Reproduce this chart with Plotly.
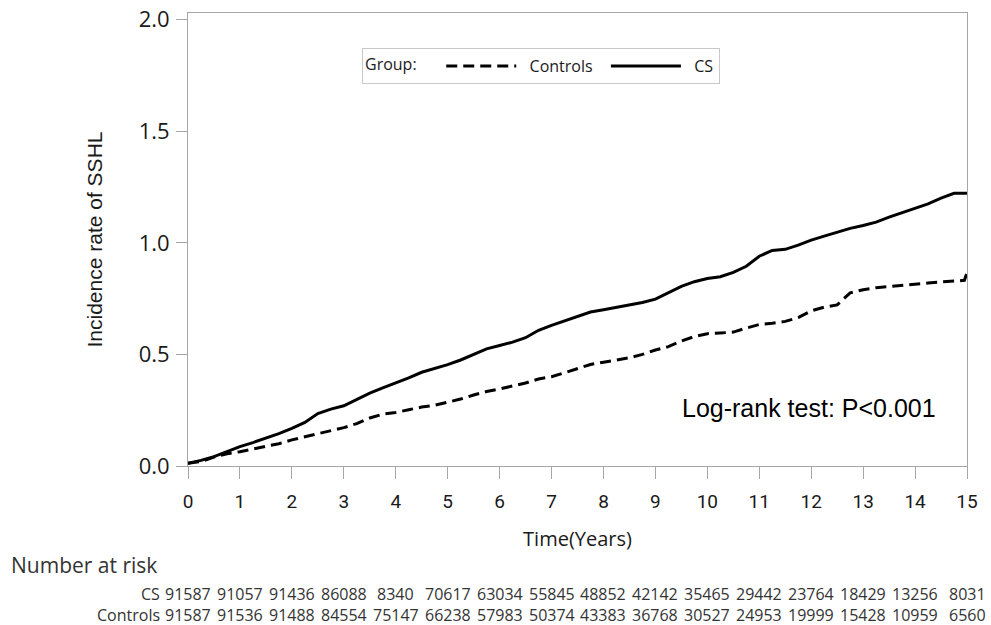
import plotly.graph_objects as go

# ---- data ----
time_years = [0, 0.25, 0.5, 0.75, 1.0, 1.25, 1.5, 1.75, 2.0, 2.25, 2.5, 2.75, 3.0, 3.25, 3.5, 3.75,
              4.0, 4.25, 4.5, 4.75, 5.0, 5.25, 5.5, 5.75, 6.0, 6.25, 6.5, 6.75, 7.0, 7.25, 7.5, 7.75,
              8.0, 8.25, 8.5, 8.75, 9.0, 9.25, 9.5, 9.75, 10.0, 10.25, 10.5, 10.75, 11.0, 11.25, 11.5,
              11.75, 12.0, 12.25, 12.5, 12.75, 13.0, 13.25, 13.5, 13.75, 14.0, 14.25, 14.5, 14.75, 14.95, 15.0]

cs_rate = [0.012, 0.025, 0.042, 0.065, 0.087, 0.105, 0.124, 0.145, 0.169, 0.195, 0.235, 0.255,
           0.270, 0.297, 0.327, 0.350, 0.372, 0.395, 0.420, 0.437, 0.454, 0.475, 0.500, 0.525,
           0.540, 0.555, 0.575, 0.608, 0.630, 0.650, 0.672, 0.690, 0.700, 0.710, 0.720, 0.733,
           0.748, 0.775, 0.805, 0.826, 0.840, 0.848, 0.868, 0.895, 0.940, 0.966, 0.971, 0.990,
           1.012, 1.030, 1.048, 1.065, 1.078, 1.093, 1.115, 1.135, 1.152, 1.175, 1.200, 1.222, 1.222, 1.222]

controls_rate = [0.012, 0.020, 0.040, 0.055, 0.064, 0.075, 0.087, 0.100, 0.117, 0.130, 0.144, 0.158,
                 0.172, 0.190, 0.215, 0.232, 0.240, 0.252, 0.264, 0.272, 0.285, 0.300, 0.318, 0.334,
                 0.345, 0.358, 0.372, 0.390, 0.400, 0.418, 0.435, 0.455, 0.465, 0.475, 0.485, 0.500,
                 0.520, 0.535, 0.560, 0.580, 0.593, 0.596, 0.600, 0.618, 0.634, 0.640, 0.648, 0.665,
                 0.695, 0.712, 0.722, 0.776, 0.790, 0.799, 0.805, 0.810, 0.815, 0.820, 0.825, 0.828, 0.832, 0.866]

risk_times = list(range(16))
cs_at_risk = [91587, 91057, 91436, 86088, 8340, 70617, 63034, 55845, 48852, 42142,
              35465, 29442, 23764, 18429, 13256, 8031]
controls_at_risk = [91587, 91536, 91488, 84554, 75147, 66238, 57983, 50374, 43383, 36768,
                    30527, 24953, 19999, 15428, 10959, 6560]

x_ticks = list(range(16))
y_ticks = [0.0, 0.5, 1.0, 1.5, 2.0]

AX = "#a6a6a6"
TXT = "#1a1a1a"
NB = "\u00a0"

fig = go.Figure()
fig.add_trace(go.Scatter(x=time_years, y=controls_rate, name=NB * 2 + "Controls" + NB * 2, mode="lines",
                         line=dict(color="black", width=3, dash="11px,6px")))
fig.add_trace(go.Scatter(x=time_years, y=cs_rate, name=NB * 2 + "CS", mode="lines",
                         line=dict(color="black", width=3)))

annotations = []
annotations.append(dict(x=11.95, y=0.26, xref="x", yref="y", text="Log-rank test: P<0.001",
                        showarrow=False, font=dict(family="Liberation Sans", size=25, color="black")))
annotations.append(dict(x=(9 - 188) / 779, y=(466 - 565) / 453, xref="paper", yref="paper",
                        text="Number at risk", showarrow=False, xanchor="left", yanchor="middle",
                        font=dict(family="Open Sans", size=21, color="#333333")))
row_y = {"CS": (466 - 594) / 453, "Controls": (466 - 615) / 453}
for label, vals in (("CS", cs_at_risk), ("Controls", controls_at_risk)):
    annotations.append(dict(x=(162 - 188) / 779, y=row_y[label], xref="paper", yref="paper",
                            text=label, showarrow=False, xanchor="right", yanchor="middle",
                            font=dict(family="Open Sans", size=16, color="#333333")))
    for t, v in zip(risk_times, vals):
        annotations.append(dict(x=t, y=row_y[label], xref="x", yref="paper", text=str(v),
                                showarrow=False, xanchor="center", yanchor="middle", borderpad=0,
                                font=dict(family="Open Sans", size=16, color="#333333")))

fig.update_layout(
    width=991, height=625,
    margin=dict(l=188, r=24, t=13, b=159, autoexpand=False),
    paper_bgcolor="white", plot_bgcolor="white",
    showlegend=True,
    legend=dict(orientation="h", x=(362 - 188) / 779, y=(466 - 48) / 453, xanchor="left", yanchor="top",
                title=dict(text="Group:    ", side="left", font=dict(family="Open Sans", size=16, color=TXT)),
                font=dict(family="Open Sans", size=16, color=TXT),
                bordercolor="#c8c8c8", borderwidth=1, bgcolor="white",
                itemwidth=70, tracegroupgap=0),
    annotations=annotations,
    xaxis=dict(range=[0, 15], tickvals=x_ticks, ticks="outside", ticklen=12, tickcolor=AX,
               showline=True, linecolor=AX, linewidth=1, mirror=True, showgrid=False, zeroline=False,
               automargin=False,
               tickfont=dict(family="Roboto", size=19, color=TXT), ticklabelstandoff=6,
               title=dict(text="Time(Years)", font=dict(family="Open Sans", size=20, color=TXT), standoff=20)),
    yaxis=dict(range=[0, 2.03], tickvals=y_ticks, tickformat=".1f", ticks="outside", ticklen=11,
               tickcolor=AX, showline=True, linecolor=AX, linewidth=1, mirror=True, showgrid=False,
               zeroline=False, automargin=False,
               tickfont=dict(family="Open Sans", size=22, color=TXT), ticklabelstandoff=2,
               title=dict(text="Incidence rate of SSHL", font=dict(family="Liberation Sans", size=21, color=TXT),
                          standoff=30)),
)

fig.write_html("out.html", config={"displayModeBar": False},
               post_script="document.body.style.margin='0px';document.body.style.overflow='hidden';")
